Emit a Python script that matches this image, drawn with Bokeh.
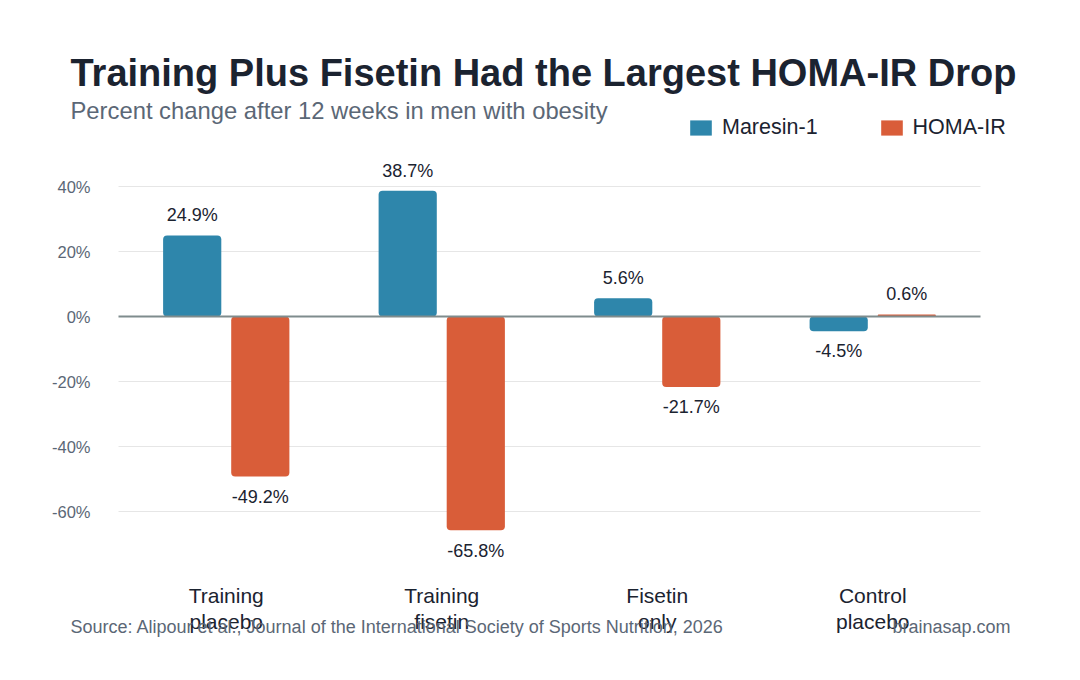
from bokeh.plotting import figure
from bokeh.models import (ColumnDataSource, Label, Legend, LegendItem,
                          FixedTicker, CustomJSTickFormatter, Range1d)
from bokeh.transform import dodge
from bokeh.core.properties import value
from bokeh.embed import file_html
from bokeh.resources import INLINE

# Study groups and the percent change for each marker
groups = ["Training\nplacebo", "Training\nfisetin", "Fisetin\nonly", "Control\nplacebo"]
maresin = [24.9, 38.7, 5.6, -4.5]
homa_ir = [-49.2, -65.8, -21.7, 0.6]
y_ticks = [-60, -40, -20, 0, 20, 40]

BLUE = "#2E86AB"
ORANGE = "#D95D39"
DARK = "#1b2330"
GRAY = "#5b6776"
FONT = "Liberation Sans"

W, H = 1080, 680
# the plotting frame fills the canvas; scales are chosen so that the
# chart area sits at x 118..980 px and the zero line at y 316 px
PX_PER_GROUP = 215.5
PX_PER_PCT = 3.25
X0_PX, ZERO_PX, AXIS_PX = 118, 316, 570

xs = [i + 0.5 for i in range(len(groups))]


def fmt(v):
    return f"{v:.1f}%"


src = ColumnDataSource(dict(
    x=xs,
    maresin=maresin,
    homa=homa_ir,
    maresin_lbl=[fmt(v) for v in maresin],
    homa_lbl=[fmt(v) for v in homa_ir],
    maresin_ly=[v + (6.2 if v >= 0 else -6.2) for v in maresin],
    homa_ly=[v + (6.2 if v >= 0 else -6.2) for v in homa_ir],
))

x_range = Range1d(-X0_PX / PX_PER_GROUP, (W - X0_PX) / PX_PER_GROUP)
y_range = Range1d(-(H - ZERO_PX) / PX_PER_PCT, ZERO_PX / PX_PER_PCT)

p = figure(width=W, height=H, x_range=x_range, y_range=y_range,
           output_backend="svg", toolbar_location=None,
           min_border=0)
p.outline_line_color = None
p.background_fill_color = "white"
p.border_fill_color = "white"

# horizontal grid lines, limited to the span of the groups
grid_y = [t for t in y_ticks if t != 0]
p.segment(x0=0, x1=len(groups), y0=grid_y, y1=grid_y, line_color="#e6e6e6", line_width=1)

off = 0.158
bw = 0.27
r_m = p.vbar(x=dodge("x", -off), top="maresin", bottom=0, width=bw,
             source=src, fill_color=BLUE, line_color=None, border_radius=4)
r_h = p.vbar(x=dodge("x", off), top="homa", bottom=0, width=bw,
             source=src, fill_color=ORANGE, line_color=None, border_radius=4)

# zero baseline
p.segment(x0=0, x1=len(groups), y0=0, y1=0, line_color="#7f8c8d", line_width=2)

# value labels
for xoff, ycol, lcol in [(-off, "maresin_ly", "maresin_lbl"), (off, "homa_ly", "homa_lbl")]:
    p.text(x=dodge("x", xoff), y=ycol, text=lcol, source=src,
           text_align="center", text_baseline="middle", text_font_size="18px",
           text_color=DARK, text_font=value(FONT))

# axes, pinned inside the frame
p.xgrid.visible = False
p.ygrid.visible = False

p.yaxis.fixed_location = 0
p.yaxis.ticker = FixedTicker(ticks=y_ticks)
p.yaxis.formatter = CustomJSTickFormatter(code="return tick + '%';")
p.yaxis.axis_line_color = None
p.yaxis.major_tick_line_color = None
p.yaxis.minor_tick_line_color = None
p.yaxis.major_label_text_font_size = "16.5px"
p.yaxis.major_label_text_color = GRAY
p.yaxis.major_label_text_font = FONT
p.yaxis.major_label_standoff = 22

p.xaxis.fixed_location = -(AXIS_PX - ZERO_PX) / PX_PER_PCT
p.xaxis.ticker = FixedTicker(ticks=xs)
p.xaxis.major_label_overrides = {x: g for x, g in zip(xs, groups)}
p.xaxis.axis_line_color = None
p.xaxis.major_tick_line_color = None
p.xaxis.minor_tick_line_color = None
p.xaxis.major_label_text_font_size = "21px"
p.xaxis.major_label_text_color = DARK
p.xaxis.major_label_text_font = FONT
p.xaxis.major_label_text_line_height = 1.15
p.xaxis.major_label_standoff = 7

# legend
legend = Legend(items=[LegendItem(label="Maresin-1", renderers=[r_m]),
                       LegendItem(label="HOMA-IR", renderers=[r_h])],
                orientation="horizontal", location=(687, H - 140),
                glyph_width=27, glyph_height=19, label_standoff=8, spacing=60,
                label_text_font_size="21.5px", label_text_color=DARK, label_text_font=FONT,
                background_fill_alpha=0, border_line_color=None, padding=0, margin=0)
p.add_layout(legend, "center")


def put(x, y, text, **kw):
    # positions are pixels from the canvas top-left
    p.add_layout(Label(x=x, y=H - y, x_units="screen", y_units="screen",
                       text=text, text_font=FONT, text_baseline="middle", **kw))


put(70, 72, "Training Plus Fisetin Had the Largest HOMA-IR Drop",
    text_font_size="38px", text_font_style="bold", text_color=DARK)
put(70, 110, "Percent change after 12 weeks in men with obesity",
    text_font_size="23.8px", text_color=GRAY)
put(70, 626, "Source: Alipour et al., Journal of the International Society of Sports Nutrition, 2026",
    text_font_size="18px", text_color=GRAY)
put(1010, 626, "brainasap.com", text_align="right",
    text_font_size="18px", text_color=GRAY)

open("out.html", "w").write(file_html(p, INLINE))
